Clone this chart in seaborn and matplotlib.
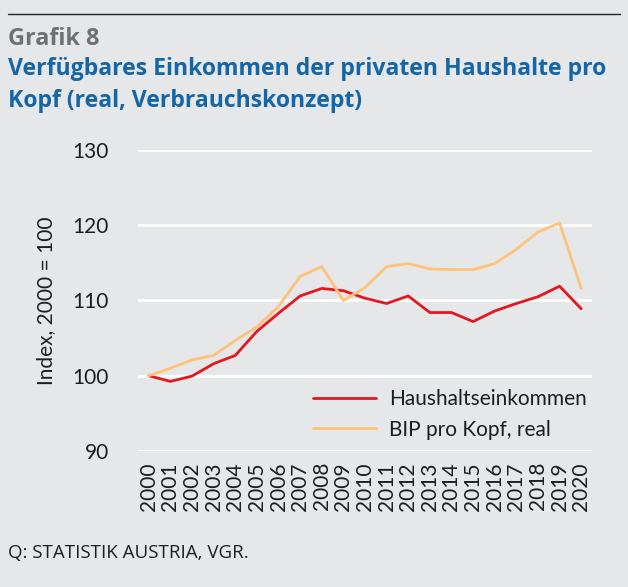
import matplotlib
matplotlib.use("Agg")
import matplotlib.pyplot as plt
import seaborn as sns
import pandas as pd

years = list(range(2000, 2021))
haushalt = [100.0, 99.25, 99.95, 101.6, 102.7, 105.9, 108.3, 110.6, 111.6, 111.3,
            110.3, 109.6, 110.6, 108.4, 108.4, 107.2, 108.6, 109.6, 110.5, 111.9, 108.9]
bip = [100.0, 101.0, 102.1, 102.7, 104.7, 106.5, 109.2, 113.2, 114.5, 110.0,
       111.7, 114.5, 114.9, 114.2, 114.1, 114.1, 114.9, 116.8, 119.1, 120.3, 111.6]
series_names = ["Haushaltseinkommen", "BIP pro Kopf, real"]
yticks = [90, 100, 110, 120, 130]

df = pd.DataFrame({"Jahr": years * 2,
                   "Wert": haushalt + bip,
                   "Serie": [series_names[0]] * len(years) + [series_names[1]] * len(years)})

bg = "#e6e7e9"
txt = "#1e1e1e"
sns.set_theme(style="white")
plt.rcParams["font.family"] = ["Lato", "DejaVu Sans"]

fig = plt.figure(figsize=(6.28, 5.87), dpi=100, facecolor=bg)
ax = fig.add_axes([0.2197, 0.2317, 0.7230, 0.5128])
ax.set_facecolor(bg)

for y in yticks:
    ax.axhline(y, color="white", lw=2, zorder=0)

sns.lineplot(data=df, x="Jahr", y="Wert", hue="Serie",
             palette={series_names[0]: "#e3171f", series_names[1]: "#fec27a"},
             linewidth=2, ax=ax, legend=True)

ax.set_xlim(1999.5, 2020.5)
ax.set_ylim(90, 130)
ax.set_yticks(yticks)
ax.set_yticklabels([str(v) for v in yticks], fontsize=15, color=txt)
ax.set_xticks(years)
ax.set_xticklabels([str(y) for y in years], rotation=90, fontsize=15, color=txt)
ax.tick_params(axis="y", length=0, pad=21)
ax.tick_params(axis="x", length=0, pad=8)
ax.set_xlabel("")
ax.set_ylabel("Index, 2000 = 100", fontsize=15, color=txt, labelpad=12)
for s in ax.spines.values():
    s.set_visible(False)

leg = ax.legend(loc="lower right", bbox_to_anchor=(1.03, -0.025), frameon=False,
                fontsize=15, handlelength=3.0, handletextpad=0.65, labelspacing=0.5)
for t in leg.get_texts():
    t.set_color(txt)

hf = ["Open Sans", "DejaVu Sans"]
fig.add_artist(plt.Line2D([8/628, 620/628], [1-14/587, 1-14/587], color="#222222", lw=1))
fig.text(8/628, 1-39/587, "Grafik 8", fontsize=16.8, fontweight="bold", color="#707070",
         va="center", ha="left", family=hf)
fig.text(8/628, 1-69/587, "Verfügbares Einkommen der privaten Haushalte pro", fontsize=16.6,
         fontweight="bold", color="#1566a6", va="center", ha="left", family=hf)
fig.text(8/628, 1-101/587, "Kopf (real, Verbrauchskonzept)", fontsize=16.6,
         fontweight="bold", color="#1566a6", va="center", ha="left", family=hf)
fig.text(8/628, 1-553/587, "Q: STATISTIK AUSTRIA, VGR.", fontsize=13.5, color=txt,
         va="center", ha="left", family=hf)

fig.savefig("out.png", dpi=100, facecolor=bg)
